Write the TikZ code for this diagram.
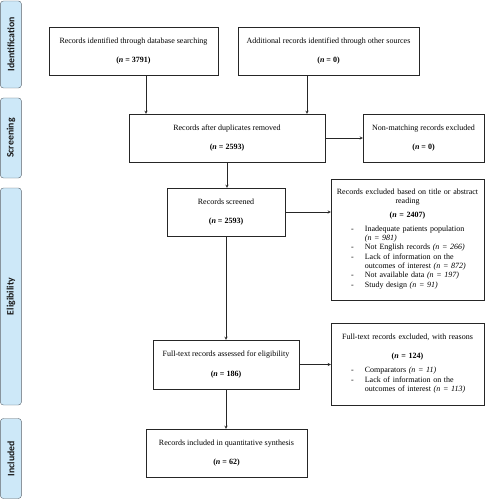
\documentclass[tikz,border=0pt]{standalone}
\usepackage{fontspec}
\setmainfont{Liberation Serif}
\newfontfamily\phasefont{Carlito}
\usepackage{xcolor}
\usetikzlibrary{arrows,calc}
\definecolor{phasefill}{HTML}{CDE8F8}
\definecolor{phaseline}{HTML}{59636B}
\tikzset{
    %boxes of the flow
    box/.style={
        rectangle,
        draw=black!85,
        inner sep=0pt,
        align=center,
        font=\fontsize{8}{9.3}\selectfont,
    },
    %stage labels on the left
    phase/.style={
        rectangle,
        rounded corners=3pt,
        draw=phaseline,
        fill=phasefill,
        rotate=90,
        inner sep=0pt,
        minimum height=21pt,
        text=black!90,
        font=\phasefont\bfseries\fontsize{9.8}{11}\selectfont,
    },
    arr/.style={
        ->, >=stealth,
        draw=black!85,
    },
}
\newcommand{\nbold}[1]{\textbf{(\textit{n} = #1)}}
\newcommand{\nit}[1]{\textit{(n = #1)}}

\begin{document}
\begin{tikzpicture}[x=1pt,y=-1pt]
		\useasboundingbox (0,0) rectangle (485,500);

		\node[phase,minimum width=87pt] (ident) at (10.9,44.5) {Identification};
		\node[phase,minimum width=80pt] (screen) at (10.9,138) {Screening};
		\node[phase,minimum width=217pt] (elig) at (10.9,296.5) {Eligibility};
		\node[phase,minimum width=80pt] (incl) at (10.9,458.5) {Included};

		\node[box,minimum width=169pt,minimum height=48pt] (db) at (133.5,51)
			{Records identified through database searching\\[10pt] \nbold{3791}};
		\node[box,minimum width=181pt,minimum height=48pt] (other) at (328.5,51)
			{Additional records identified through other sources\\[10pt] \nbold{0}};
		\node[box,minimum width=196pt,minimum height=48pt] (dup) at (227,138)
			{Records after duplicates removed\\[10pt] \nbold{2593}};
		\node[box,minimum width=121pt,minimum height=48pt] (nonmatch) at (423.5,138)
			{Non-matching records excluded\\[10pt] \nbold{0}};
		\node[box,minimum width=118pt,minimum height=48pt] (scr) at (226,212)
			{Records screened\\[10pt] \nbold{2593}};
		\node[box,minimum width=153pt,minimum height=121pt,text width=150pt] (abs) at (407.5,239.5)
			{Records excluded based on title or abstract\\reading\\[4pt]
			\nbold{2407}\\[5pt]
			\hspace*{5pt}\begin{tabular}{@{}l@{\hspace{11pt}}p{104pt}@{}}
			- & Inadequate patients population \nit{981}\\
			- & Not English records \nit{266}\\
			- & Lack of information on the outcomes of interest \nit{872}\\
			- & Not available data \nit{197}\\
			- & Study design \nit{91}
			\end{tabular}};
		\node[box,minimum width=146pt,minimum height=49pt] (full) at (226,364.5)
			{Full-text records assessed for eligibility\\[10pt] \nbold{186}};
		\node[box,minimum width=153pt,minimum height=82pt,text width=150pt] (fullex) at (407.5,364)
			{Full-text records excluded, with reasons\\[10pt]
			\nbold{124}\\[5pt]
			\hspace*{5pt}\begin{tabular}{@{}l@{\hspace{11pt}}p{104pt}@{}}
			- & Comparators \nit{11}\\
			- & Lack of information on the outcomes of interest \nit{113}
			\end{tabular}};
		\node[box,minimum width=161pt,minimum height=48pt] (quant) at (226.5,453)
			{Records included in quantitative synthesis\\[10pt] \nbold{62}};

		\coordinate (dbx) at (146,0);
		\coordinate (otherx) at (307,0);

		\draw[arr] (dbx |- db.south) -- (dbx |- dup.north);
		\draw[arr] (otherx |- other.south) -- (otherx |- dup.north);
		\draw[arr] (dup.east) -- (nonmatch.west);
		\draw[arr] (dup.south) -- (dup.south |- scr.north);
		\draw[arr] (scr.east) -- (scr.east -| abs.west);
		\draw[arr] (scr.south) -- (scr.south |- full.north);
		\draw[arr] (full.east) -- (full.east -| fullex.west);
		\draw[arr] (full.south) -- (full.south |- quant.north);
	\end{tikzpicture}
\end{document}
